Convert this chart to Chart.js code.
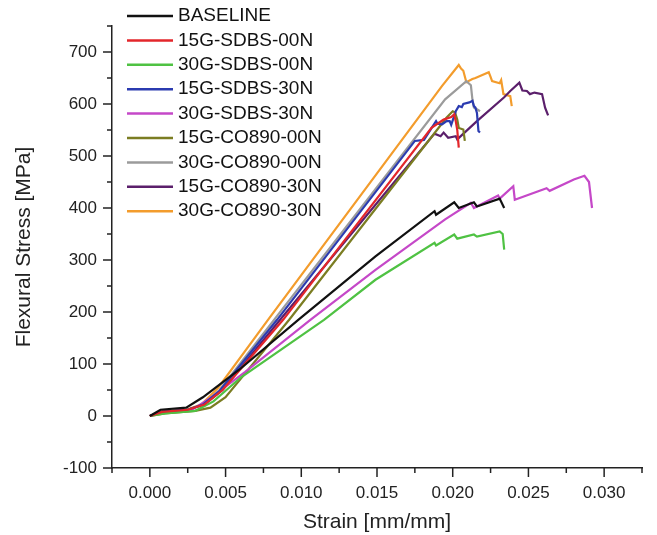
<!DOCTYPE html>
<html>
<head>
<meta charset="utf-8">
<script src="https://cdn.jsdelivr.net/npm/chart.js@4.4.1/dist/chart.umd.min.js"></script>
<style>
    html, body { margin: 0; padding: 0; background: #fff; }
    #wrap { width: 657px; height: 535px; }
</style>
</head>
<body>
<div id="wrap"><canvas id="myChart"></canvas></div>
<script>
// legend names, same order as the legend
var seriesNames = ['BASELINE', '15G-SDBS-00N', '30G-SDBS-00N', '15G-SDBS-30N', '30G-SDBS-30N',
                   '15G-CO890-00N', '30G-CO890-00N', '15G-CO890-30N', '30G-CO890-30N'];
var seriesColors = ['#111111', '#e3262b', '#4fc243', '#2b3bb0', '#c548c8',
                    '#7b7d22', '#9b9b9b', '#5b1f6b', '#f39c2c'];

// [strain, stress]
var baseline = [[0,0],[0.0007,12],[0.0024,16],[0.0035,36],[0.0059,89],[0.0098,185],[0.0149,307],
    [0.0188,394],[0.0189,387],[0.0201,411],[0.0204,400],[0.0214,411],[0.0216,403],[0.0231,418],[0.0234,400]];
var sdbs15_00 = [[0,0],[0.0008,8],[0.0025,12],[0.0036,22],[0.0048,50],[0.0088,185],[0.0186,554],
    [0.0194,570],[0.0199,575],[0.0201,580],[0.0202,567],[0.0203,550],[0.0204,516]];
var sdbs30_00 = [[0,0],[0.001,5],[0.003,10],[0.0042,28],[0.006,74],[0.0115,185],[0.0149,262],
    [0.0188,333],[0.0189,328],[0.0201,349],[0.0203,341],[0.0214,349],[0.0216,345],[0.0231,355],[0.0233,350],[0.0234,320]];
var sdbs15_30 = [[0,0],[0.0008,8],[0.0025,12],[0.0035,22],[0.0046,48],[0.0084,185],[0.0175,529],
    [0.0181,531],[0.0189,567],[0.0190,562],[0.0193,561],[0.0196,567],[0.0198,567],[0.0199,560],
    [0.0202,586],[0.0204,596],[0.0206,594],[0.0207,600],[0.0211,603],[0.0213,606],[0.0214,596],
    [0.0215,593],[0.0216,583],[0.0217,548],[0.0218,545]];
var sdbs30_30 = [[0,0],[0.001,8],[0.0028,12],[0.004,35],[0.0063,85],[0.0106,185],[0.0149,281],
    [0.0195,378],[0.0212,410],[0.0214,400],[0.0230,424],[0.0231,418],[0.0240,442],[0.0241,416],
    [0.0262,438],[0.0264,433],[0.0280,455],[0.0287,462],[0.0290,450],[0.0292,400]];
var co890_15_00 = [[0,0],[0.001,5],[0.003,10],[0.0040,16],[0.0050,36],[0.0092,185],[0.0196,574],
    [0.0200,586],[0.02015,584],[0.0203,570],[0.0204,554],[0.0207,551],[0.0208,529]];
var co890_30_00 = [[0,0],[0.0008,8],[0.0025,12],[0.0035,22],[0.0046,50],[0.0082,185],[0.0195,609],
    [0.0209,644],[0.0212,636],[0.0213,609],[0.0214,593],[0.0216,590],[0.0218,586]];
var co890_15_30 = [[0,0],[0.0008,8],[0.0025,12],[0.0036,22],[0.0048,50],[0.0086,185],[0.0188,543],
    [0.0192,538],[0.0194,545],[0.0197,535],[0.0202,538],[0.0203,532],[0.0216,567],[0.0234,613],
    [0.0238,625],[0.0244,641],[0.0246,626],[0.0249,625],[0.0251,619],[0.0254,622],[0.0259,619],
    [0.0261,593],[0.0263,578]];
var co890_30_30 = [[0,0],[0.0008,9],[0.0024,12],[0.0034,22],[0.0045,54],[0.0078,185],[0.0193,635],
    [0.0204,675],[0.02055,668],[0.0207,664],[0.0209,642],[0.0213,648],[0.0215,650],[0.02238,661],
    [0.0225,652],[0.0226,644],[0.0231,640],[0.0232,646],[0.02335,619],[0.0238,615],[0.0239,596]];

var seriesData = [baseline, sdbs15_00, sdbs30_00, sdbs15_30, sdbs30_30,
                  co890_15_00, co890_30_00, co890_15_30, co890_30_30];

// axis ticks
var xTicks = [0, 0.005, 0.010, 0.015, 0.020, 0.025, 0.030];
var xMinorTicks = [-0.0025, 0.0025, 0.0075, 0.0125, 0.0175, 0.0225, 0.0275, 0.0325];
var yTicks = [-100, 0, 100, 200, 300, 400, 500, 600, 700];
var yMinorTicks = [-50, 50, 150, 250, 350, 450, 550, 650, 750];

var FONT = '"Liberation Sans", Arial, sans-serif';

// tick marks pointing outward, long for major and short for minor
var tickMarks = {
    id: 'tickMarks',
    afterDraw: function(chart) {
        var c = chart.ctx, xs = chart.scales.x, ys = chart.scales.y, a = chart.chartArea;
        c.save();
        c.strokeStyle = '#222';
        c.lineWidth = 1.5;
        function mark(x1, y1, x2, y2) { c.beginPath(); c.moveTo(x1, y1); c.lineTo(x2, y2); c.stroke(); }
        xTicks.forEach(function(v) { var p = xs.getPixelForValue(v); mark(p, a.bottom, p, a.bottom + 9); });
        xMinorTicks.forEach(function(v) { var p = xs.getPixelForValue(v); mark(p, a.bottom, p, a.bottom + 5); });
        yTicks.forEach(function(v) { var p = ys.getPixelForValue(v); mark(a.left, p, a.left - 9, p); });
        yMinorTicks.forEach(function(v) { var p = ys.getPixelForValue(v); mark(a.left, p, a.left - 5, p); });
        c.restore();
    }
};

// legend in the upper left corner
var legendBox = {
    id: 'legendBox',
    afterDatasetsDraw: function(chart) {
        var c = chart.ctx;
        c.save();
        c.font = '19px ' + FONT;
        c.textBaseline = 'middle';
        chart.data.datasets.forEach(function(ds, i) {
            var y = 16 + i * 24.4;
            c.strokeStyle = ds.borderColor;
            c.lineWidth = 2.5;
            c.beginPath(); c.moveTo(127, y); c.lineTo(173, y); c.stroke();
            c.fillStyle = '#111';
            c.fillText(ds.label, 178, y);
        });
        c.restore();
    }
};

var ctx = document.getElementById('myChart').getContext('2d');
var myChart = new Chart(ctx, {
    type: 'line',
    data: {
        datasets: seriesNames.map(function(name, i) {
            return {
                label: name,
                data: seriesData[i].map(function(p) { return {x: p[0], y: p[1]}; }),
                borderColor: seriesColors[i],
                backgroundColor: seriesColors[i],
                borderWidth: 2.2,
                pointRadius: 0,
                tension: 0,
                fill: false
            };
        })
    },
    options: {
        responsive: true,
        maintainAspectRatio: false,
        animation: false,
        layout: { padding: { top: 26, right: 7, left: 0, bottom: 0 } },
        plugins: {
            legend: { display: false },
            tooltip: { enabled: false }
        },
        scales: {
            x: {
                type: 'linear',
                min: -0.0025,
                max: 0.0325,
                grid: { display: false, drawTicks: false },
                border: { display: true, color: '#222', width: 1.5 },
                afterBuildTicks: function(axis) {
                    axis.ticks = xMinorTicks.concat(xTicks).sort(function(a, b) { return a - b; })
                        .map(function(v) { return {value: v}; });
                },
                afterFit: function(s) { s.height = 67; },
                ticks: {
                    autoSkip: false,
                    maxRotation: 0,
                    padding: 15,
                    color: '#222',
                    font: { family: FONT, size: 17 },
                    callback: function(v) { return xTicks.indexOf(v) >= 0 ? v.toFixed(3) : ''; }
                },
                title: {
                    display: true,
                    text: 'Strain [mm/mm]',
                    color: '#222',
                    font: { family: FONT, size: 21 },
                    padding: { top: 4, bottom: 0 }
                }
            },
            y: {
                min: -100,
                max: 750,
                grid: { display: false, drawTicks: false },
                border: { display: true, color: '#222', width: 1.5 },
                afterBuildTicks: function(axis) {
                    axis.ticks = yMinorTicks.concat(yTicks).sort(function(a, b) { return a - b; })
                        .map(function(v) { return {value: v}; });
                },
                afterFit: function(s) { s.width = 112; },
                ticks: {
                    autoSkip: false,
                    padding: 15,
                    color: '#222',
                    font: { family: FONT, size: 17 },
                    callback: function(v) { return yTicks.indexOf(v) >= 0 ? String(v) : ''; }
                },
                title: {
                    display: true,
                    text: 'Flexural Stress [MPa]',
                    color: '#222',
                    font: { family: FONT, size: 21 },
                    padding: { top: 12, bottom: 0 }
                }
            }
        }
    },
    plugins: [tickMarks, legendBox]
});
</script>
</body>
</html>
